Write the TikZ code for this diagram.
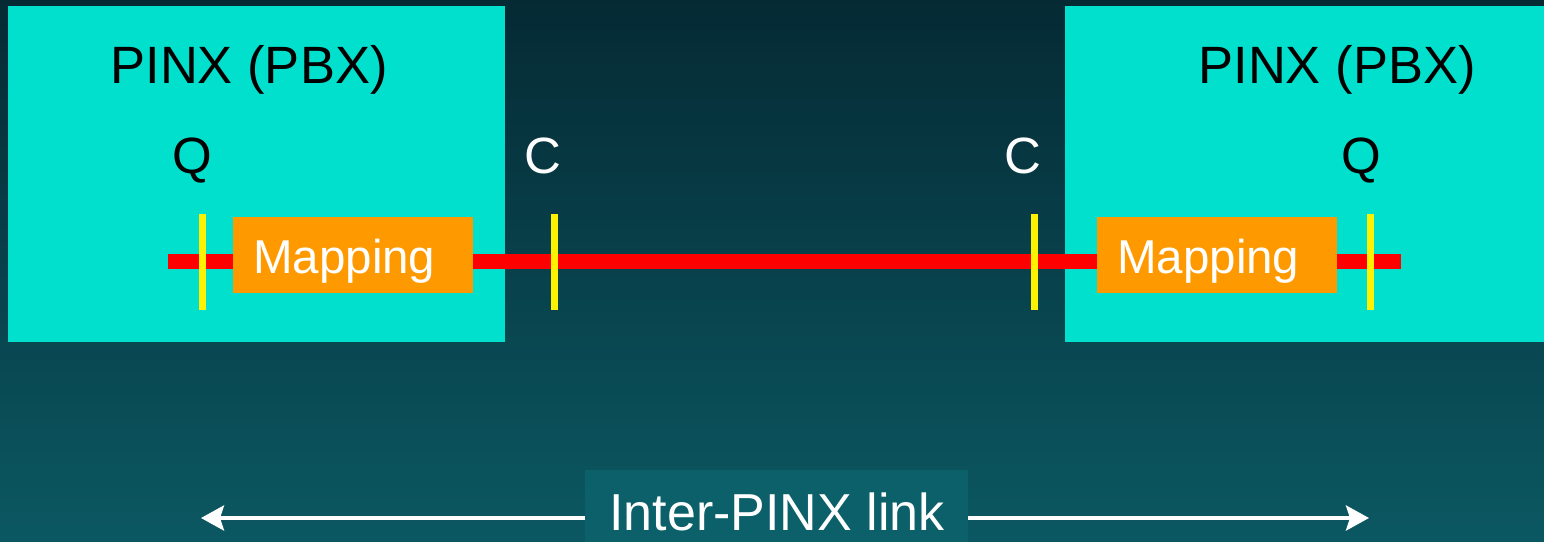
\documentclass[tikz,border=0pt]{standalone}
\usepackage{fontspec}
\setmainfont{Liberation Sans}
\usetikzlibrary{arrows.meta}
\definecolor{bgtop}{RGB}{5,42,52}
\definecolor{bgbot}{RGB}{11,88,98}
\definecolor{pinxc}{RGB}{0,224,204}
\definecolor{mapc}{RGB}{255,153,0}
\definecolor{linkbg}{RGB}{12,96,106}
\tikzset{
  pinxbox/.style={fill=pinxc, draw=none, inner sep=0, anchor=north west},
  mapbox/.style={fill=mapc, draw=none, inner sep=0, anchor=north west},
  bar/.style={fill=yellow, draw=none, inner sep=0, minimum width=7, minimum height=96},
  redline/.style={draw=red, line width=15pt},
  title/.style={font=\fontsize{52.5}{60}\selectfont, text=black, anchor=base, inner sep=0},
  qlabel/.style={font=\fontsize{51}{60}\selectfont, text=black, anchor=base, inner sep=0},
  clabel/.style={font=\fontsize{51}{60}\selectfont, text=white, anchor=base, inner sep=0},
  maptext/.style={font=\fontsize{47.5}{55}\selectfont, text=white, anchor=base west, inner sep=0},
  linkbox/.style={fill=linkbg, draw=none, inner sep=0, anchor=north west},
  linktext/.style={font=\fontsize{52}{60}\selectfont, text=white, anchor=base, inner sep=0},
  linkarrow/.style={draw=white, line width=4pt, -{Stealth[length=23pt,width=25pt,inset=4pt]}},
}
\begin{document}
\begin{tikzpicture}[x=1pt,y=-1pt]
\useasboundingbox (0,0) rectangle (1544,541);
\shade[top color=bgtop, bottom color=bgbot] (0,0) rectangle (1544,541);
% PINX boxes
\node[pinxbox, minimum width=497, minimum height=336] (boxL) at (8,6) {};
\node[pinxbox, minimum width=480, minimum height=336] (boxR) at (1065,6) {};
\node[title] (titleL) at (249,83) {PINX (PBX)};
\node[title] (titleR) at (1337,83) {PINX (PBX)};
% red line
\coordinate (redL) at (168,261.5);
\coordinate (redR) at (1401,261.5);
\draw[redline] (redL) -- (redR);
% mapping boxes
\node[mapbox, minimum width=240, minimum height=76] (mapL) at (233,217) {};
\node[mapbox, minimum width=240, minimum height=76] (mapR) at (1097,217) {};
\node[maptext] (mapLt) at (253,273) {Mapping};
\node[maptext] (mapRt) at (1117,273) {Mapping};
% yellow bars
\node[bar] (qL) at (202,262) {};
\node[bar] (cL) at (554,262) {};
\node[bar] (cR) at (1034,262) {};
\node[bar] (qR) at (1370,262) {};
% Q and C labels
\node[qlabel] (qLt) at (192,173) {Q};
\node[clabel] (cLt) at (543,173) {C};
\node[clabel] (cRt) at (1023,173) {C};
\node[qlabel] (qRt) at (1361,173) {Q};
% Inter-PINX link
\node[linkbox, minimum width=383, minimum height=72] (linkb) at (585,470) {};
\node[linktext] (linkt) at (777,530) {Inter-PINX link};
\coordinate (arrL) at (201,518);
\coordinate (arrR) at (1369,518);
\draw[linkarrow] (linkb.west |- arrL) -- (arrL);
\draw[linkarrow] (linkb.east |- arrR) -- (arrR);
\end{tikzpicture}
\end{document}
